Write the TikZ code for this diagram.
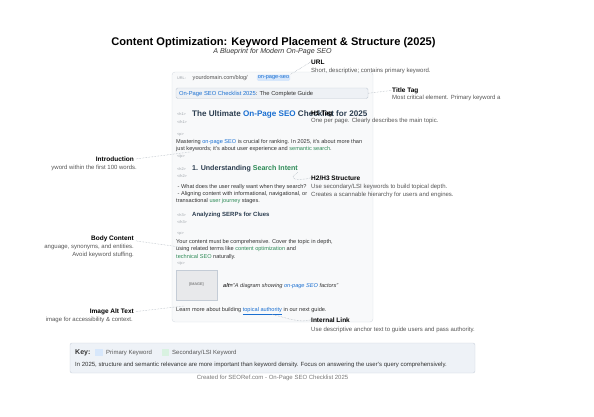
\documentclass[tikz,border=0pt]{standalone}
\usepackage{fontspec}
\setmainfont{Liberation Sans}
\definecolor{textc}{HTML}{333333}
\definecolor{descc}{HTML}{555555}
\definecolor{tagc}{HTML}{9AA0A6}
\definecolor{pkblue}{HTML}{1A6FD1}
\definecolor{pkbg}{HTML}{D7E7FB}
\definecolor{skgreen}{HTML}{2E8B57}
\definecolor{skbg}{HTML}{D9F2E1}
\definecolor{h1c}{HTML}{2C3E50}
\definecolor{connc}{HTML}{A9B1BA}
\definecolor{mockfill}{HTML}{F8F9FA}
\definecolor{mockdraw}{HTML}{D8DDE3}
\definecolor{barfill}{HTML}{EEF1F5}
\definecolor{bardraw}{HTML}{C4CCD6}
\definecolor{keyfill}{HTML}{EEF2F7}
\definecolor{keydraw}{HTML}{C9D1DB}
\newcommand{\pkw}[1]{\textcolor{pkblue}{#1}}
\newcommand{\skw}[1]{\textcolor{skgreen}{#1}}
\tikzset{
  txt/.style={inner sep=0, anchor=base west, font=\fontsize{5.6}{6.5}\selectfont, text=textc},
  tagt/.style={inner sep=0, anchor=base west, font=\fontsize{3.8}{4}\selectfont, text=tagc},
  anntitle/.style={inner sep=0, font=\bfseries\fontsize{6.5}{7.5}\selectfont, text=black},
  anndesc/.style={inner sep=0, font=\fontsize{6}{7}\selectfont, text=descc},
  conn/.style={draw=connc, densely dotted, line width=0.5pt},
}
\begin{document}
\begin{tikzpicture}[x=1pt,y=-1pt]
\useasboundingbox (0,0) rectangle (594,416);
% title
\node[inner sep=0, anchor=base, font=\bfseries\fontsize{11.1}{13}\selectfont, text=black] (title) at (273.5,45) {Content Optimization: Keyword Placement \& Structure (2025)};
\node[inner sep=0, anchor=base, font=\itshape\fontsize{7.1}{8.5}\selectfont, text=textc] (subtitle) at (272.5,53.5) {A Blueprint for Modern On-Page SEO};
% mock page
\node[draw=mockdraw, fill=mockfill, rounded corners=3pt, minimum width=201pt, minimum height=250pt, inner sep=0] (mock) at (272.5,197) {};
% URL row
\node[tagt] (urltag) at (177,79.5) {URL:};
\node[txt, text=descc] (urlpath) at (192.5,79.5) {yourdomain.com/blog/};
\node[inner sep=1pt, fill=pkbg, rounded corners=1.5pt, font=\fontsize{5.6}{6.5}\selectfont, text=pkblue] (slug) at (273.5,77.7) {on-page-seo};
% title bar
\node[draw=bardraw, fill=barfill, rounded corners=1.5pt, minimum width=192pt, minimum height=10.5pt, inner sep=0] (titlebar) at (272,93.25) {};
\node[txt, font=\fontsize{5.8}{6.5}\selectfont] (titletext) at (179,95.3) {\pkw{On-Page SEO Checklist 2025}: The Complete Guide};
% H1
\node[tagt] (h1open) at (177,115) {<h1>};
\node[txt, font=\bfseries\fontsize{8.1}{9}\selectfont, text=h1c] (h1head) at (192,116) {The Ultimate \pkw{On-Page SEO} Checklist for 2025};
\node[tagt] (h1close) at (177,123) {</h1>};
% intro paragraph
\node[tagt] (p1open) at (177,135) {<p>};
\node[txt] (p1a) at (176,143.2) {Mastering \pkw{on-page SEO} is crucial for ranking. In 2025, it's about more than};
\node[txt] (p1b) at (176,150.5) {just keywords; it's about user experience and \skw{semantic search}.};
\node[tagt] (p1close) at (177,157) {</p>};
% H2
\node[tagt] (h2open) at (177,170) {<h2>};
\node[txt, font=\bfseries\fontsize{7.1}{8}\selectfont, text=h1c] (h2head) at (192,170.6) {1. Understanding \skw{Search Intent}};
\node[tagt] (h2close) at (177,177.5) {</h2>};
\node[txt] (li1) at (177.5,188.2) {- What does the user really want when they search?};
\node[txt] (li2) at (177.5,195.7) {- Aligning content with informational, navigational, or};
\node[txt] (li3) at (176,202.8) {transactional \skw{user journey} stages.};
% H3
\node[tagt] (h3open) at (177,216) {<h3>};
\node[txt, font=\bfseries\fontsize{6}{7}\selectfont, text=h1c] (h3head) at (192,216.6) {Analyzing SERPs for Clues};
\node[tagt] (h3close) at (177,223) {</h3>};
% body paragraph
\node[tagt] (p2open) at (177,234) {<p>};
\node[txt] (p2a) at (176,243.2) {Your content must be comprehensive. Cover the topic in depth,};
\node[txt] (p2b) at (176,250.5) {using related terms like \skw{content optimization} and};
\node[txt] (p2c) at (176,258) {\skw{technical SEO} naturally.};
\node[tagt] (p2close) at (177,264) {</p>};
% image
\node[draw=bardraw, fill=barfill!80!gray!60, minimum width=41pt, minimum height=30pt, inner sep=0, font=\fontsize{3.8}{4}\selectfont, text=descc] (img) at (196.5,285) {[IMAGE]};
\node[txt, font=\itshape\fontsize{5.6}{6.5}\selectfont] (alttext) at (223,287.3) {\textbf{alt=}"A diagram showing \pkw{on-page SEO} factors"};
% link line
\node[txt] (learn) at (176,311.3) {Learn more about building \pkw{\underline{topical authority}} in our next guide.};
% right annotations
\node[anntitle, anchor=base west] (urlT) at (311,64) {URL};
\node[anndesc, anchor=base west] (urlD) at (311,72.8) {Short, descriptive; contains primary keyword.};
\node[anntitle, anchor=base west] (ttT) at (392,92) {Title Tag};
\node[anndesc, anchor=base west] (ttD) at (392,99.8) {Most critical element. Primary keyword a};
\node[anntitle, anchor=base west] (h1T) at (311,115.6) {H1 Tag};
\node[anndesc, anchor=base west] (h1D) at (311,122.2) {One per page. Clearly describes the main topic.};
\node[anntitle, anchor=base west] (h2T) at (311,180) {H2/H3 Structure};
\node[anndesc, anchor=base west] (h2Da) at (311,188) {Use secondary/LSI keywords to build topical depth.};
\node[anndesc, anchor=base west] (h2Db) at (311,196.2) {Creates a scannable hierarchy for users and engines.};
\node[anntitle, anchor=base west] (ilT) at (311,322.2) {Internal Link};
\node[anndesc, anchor=base west] (ilD) at (311,331) {Use descriptive anchor text to guide users and pass authority.};
% left annotations
\node[anntitle, anchor=base east] (introT) at (134,161.2) {Introduction};
\node[anndesc, anchor=base east] (introD) at (137,169.8) {yword within the first 100 words.};
\node[anntitle, anchor=base east] (bodyT) at (134,240.6) {Body Content};
\node[anndesc, anchor=base east] (bodyDa) at (134,248.8) {anguage, synonyms, and entities.};
\node[anndesc, anchor=base east] (bodyDb) at (134,256.5) {Avoid keyword stuffing.};
\node[anntitle, anchor=base east] (altT) at (134,313.2) {Image Alt Text};
\node[anndesc, anchor=base east] (altD) at (133,321.3) {image for accessibility \& context.};
% connector end points
\coordinate (introtip) at (190,152);
\coordinate (bodytip) at (180,247);
\coordinate (alttip) at (184,306);
\coordinate (linktip) at (272,314.5);
% connectors
\draw[conn] (urlT.west) -- (slug.north east);
\draw[conn] (titlebar.east) -- (ttT.west);
\draw[conn] ([xshift=2pt]introT.east) -- (introtip);
\draw[conn] (h2T.west) .. controls (300,181) and (285,180) .. (h2head.south east);
\draw[conn] ([xshift=2pt,yshift=-2pt]bodyT.east) -- (bodytip);
\draw[conn] ([xshift=2pt]altT.east) -- (alttip);
\draw[conn] (ilT.west) .. controls (298,323) and (288,318) .. (linktip);
% key box
\node[draw=keydraw, fill=keyfill, rounded corners=2pt, minimum width=405pt, minimum height=30pt, inner sep=0] (keybox) at (272.5,358) {};
\node[inner sep=0, anchor=base west, font=\bfseries\fontsize{7}{8}\selectfont, text=textc] (keyT) at (75,354.8) {Key:};
\node[fill=pkbg, minimum width=8pt, minimum height=7pt, inner sep=0] (sw1) at (99,352.5) {};
\node[anndesc, anchor=base west] (sw1L) at (106,354.6) {Primary Keyword};
\node[fill=skbg, minimum width=7pt, minimum height=7pt, inner sep=0] (sw2) at (165.5,352.5) {};
\node[anndesc, anchor=base west] (sw2L) at (172,354.6) {Secondary/LSI Keyword};
\node[anndesc, anchor=base west, text=textc] (keynote) at (75,366.5) {In 2025, structure and semantic relevance are more important than keyword density. Focus on answering the user's query comprehensively.};
\node[anndesc, anchor=base, text=descc!80] (footer) at (272.5,379.2) {Created for SEORef.com - On-Page SEO Checklist 2025};
\end{tikzpicture}
\end{document}
